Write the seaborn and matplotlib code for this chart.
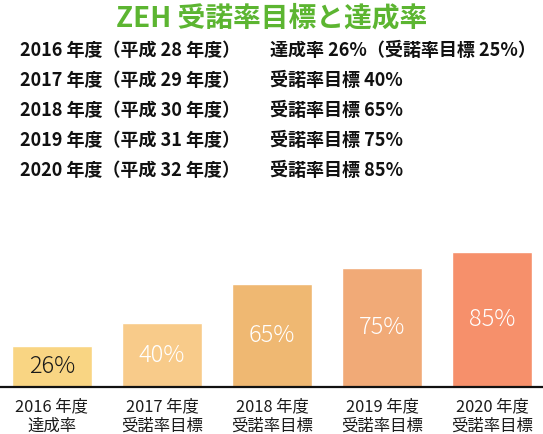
import pandas as pd
import seaborn as sns
import matplotlib.pyplot as plt

# データ
categories = ["2016 年度\n達成率", "2017 年度\n受諾率目標", "2018 年度\n受諾率目標",
              "2019 年度\n受諾率目標", "2020 年度\n受諾率目標"]
values = [26, 40, 65, 75, 85]
bar_labels = ["26%", "40%", "65%", "75%", "85%"]
bar_colors = ["#f9d583", "#f8cb8a", "#efb872", "#f1aa77", "#f6906b"]
label_colors = ["#1a1a1a", "white", "white", "white", "white"]

title = "ZEH 受諾率目標と達成率"
list_left = ["2016 年度（平成 28 年度）", "2017 年度（平成 29 年度）", "2018 年度（平成 30 年度）",
             "2019 年度（平成 31 年度）", "2020 年度（平成 32 年度）"]
list_right = ["達成率 26%（受諾率目標 25%）", "受諾率目標 40%", "受諾率目標 65%",
              "受諾率目標 75%", "受諾率目標 85%"]

df = pd.DataFrame({"cat": categories, "val": values})

sns.set_theme(style="white")
plt.rcParams['font.family'] = ['Noto Sans CJK JP', 'DejaVu Sans']

fig = plt.figure(figsize=(5.43, 4.34), dpi=100)
ax = fig.add_axes([0, 47 / 434, 1, 147 / 434])

sns.barplot(data=df, x="cat", y="val", hue="cat", palette=bar_colors,
            legend=False, width=0.727, ax=ax, saturation=1)

for i, v in enumerate(values):
    ax.text(i, v / 2, bar_labels[i], ha="center", va="center",
            fontsize=17, color=label_colors[i], fontweight="light")

ax.set_xlim(-0.4727, 4.4636)
ax.set_ylim(0, 92.5)
ax.set_xlabel("")
ax.set_ylabel("")
ax.set_yticks([])
ax.tick_params(axis="x", length=0, pad=8, labelsize=11.8, colors="#1a1a1a")
for s in ["top", "right", "left"]:
    ax.spines[s].set_visible(False)
ax.spines["bottom"].set_color("#111111")
ax.spines["bottom"].set_linewidth(1.6)

# タイトルと一覧
fig.text(0.5, 1 - 18 / 434, title, ha="center", va="center",
         fontsize=20, fontweight="bold", color="#5cb531")
ys = [50, 80, 110, 140, 170]
for y, l, r in zip(ys, list_left, list_right):
    fig.text(20 / 543, 1 - y / 434, l, ha="left", va="center",
             fontsize=13, fontweight="bold", color="#111111")
    fig.text(270 / 543, 1 - y / 434, r, ha="left", va="center",
             fontsize=13, fontweight="bold", color="#111111")

fig.savefig("out.png", dpi=100)
